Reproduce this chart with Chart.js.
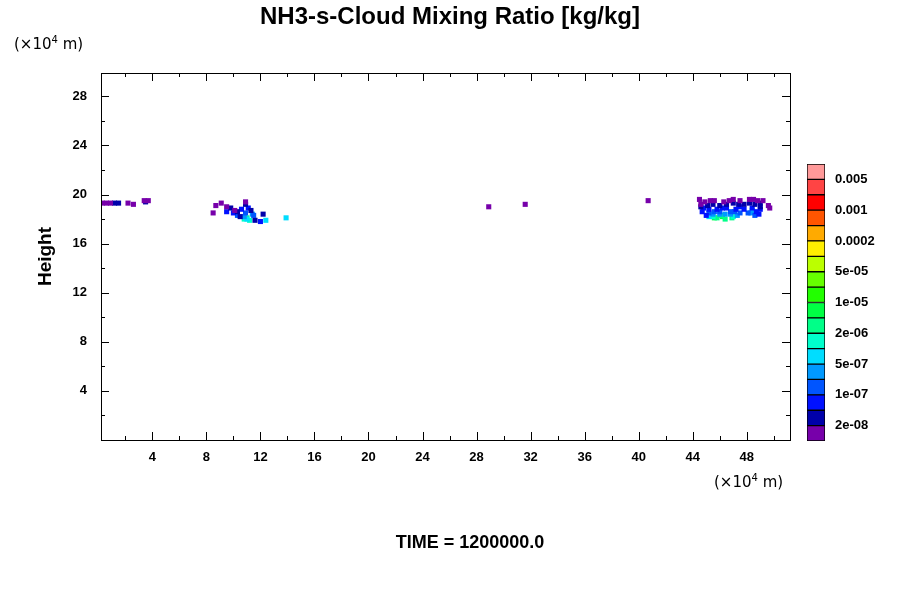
<!DOCTYPE html>
<html>
<head>
<meta charset="utf-8">
<script src="https://cdn.jsdelivr.net/npm/chart.js@4"></script>
<style>
  body { margin: 0; background: #fff; }
  #wrap { position: relative; width: 900px; height: 600px; font-family: "Liberation Sans", Arial, sans-serif; }
  .txt { position: absolute; white-space: nowrap; }
  #main { position: absolute; left: 0; top: 0; }
  #bar { position: absolute; left: 807px; top: 148px; }
</style>
</head>
<body>
<div id="wrap">
  <canvas id="main" width="900" height="600"></canvas>
  <canvas id="bar" width="90" height="309"></canvas>
  <div class="txt" style="left:0;width:900px;top:2px;text-align:center;font-size:24px;font-weight:bold;">NH3-s-Cloud Mixing Ratio [kg/kg]</div>
  <div class="txt" style="left:14px;top:34px;font-size:15px;font-family:'DejaVu Sans';">(×10<sup style="font-size:10px">4</sup> m)</div>
  <div class="txt" style="left:714px;top:472px;font-size:15px;font-family:'DejaVu Sans';">(×10<sup style="font-size:10px">4</sup> m)</div>
  <div class="txt" style="left:0;width:940px;top:532px;text-align:center;font-size:18px;font-weight:bold;">TIME = 1200000.0</div>
</div>
<script>
// colour levels, bottom to top
const levelColors = ['#7700aa','#0000aa','#0011ff','#0055ff','#0099ff','#00ddff','#00ffcc','#00ff88',
  '#00ff44','#22ff00','#66ff00','#bbff00','#ffee00','#ffaa00','#ff5500','#ff0000','#ff4444','#ff9999'];
const levelLabels = {1:'2e-08',3:'1e-07',5:'5e-07',7:'2e-06',9:'1e-05',11:'5e-05',13:'0.0002',15:'0.001',17:'0.005'};
const xTicks = [4,8,12,16,20,24,28,32,36,40,44,48];
const yTicks = [4,8,12,16,20,24,28];

// cloud cells per level (x, height in 1e4 m)
const cellsPurple = [[0.3,19.3],[0.6,19.3],[0.9,19.3],[2.2,19.3],[2.6,19.2],[3.4,19.5],[3.7,19.5],[8.7,19.1],[9.1,19.3],
  [8.5,18.5],[28.9,19.0],[31.6,19.2],[40.7,19.5],[44.5,19.6],[44.9,19.4],[46.3,19.4],[47.5,19.5],[48.2,19.6],
  [48.8,19.5],[49.6,19.1],[49.7,18.9],[9.5,19.0],[45.6,19.5],[47.0,19.6],[45.3,19.5],[46.7,19.5],[48.5,19.6],
  [44.6,19.2],[49.2,19.5],[10.9,19.4],[10.1,18.7]];
const cellsNavy = [[1.2,19.3],[1.5,19.3],[9.8,18.9],[10.9,19.2],[44.6,19.0],[45.5,19.2],[46.0,19.1],[47.0,19.3],
  [47.8,19.2],[48.6,19.2],[49.0,19.3],[10.5,18.2],[11.6,17.9],[12.2,18.4],[3.5,19.4],[45.1,19.1],[46.5,19.2],
  [47.4,19.2],[48.2,19.3],[49.0,19.0],[10.3,18.6],[11.3,18.7]];
const cellsBlue = [[9.5,18.6],[10.0,18.5],[10.6,18.8],[11.1,18.9],[12.0,17.8],[44.7,18.6],[45.2,18.8],[45.8,18.8],
  [46.5,18.9],[47.2,18.8],[47.8,18.8],[48.4,18.9],[49.0,18.8],[45.0,18.3],[48.9,18.4],[44.8,18.9],[46.2,18.9],
  [47.5,19.0],[48.7,18.6]];
const cellsMidBlue = [[10.3,18.3],[10.9,18.5],[11.5,18.3],[45.2,18.5],[46.0,18.6],[46.8,18.6],[47.5,18.5],[48.1,18.5],
  [45.6,18.6],[47.1,18.6],[48.6,18.3]];
const cellsSky = [[10.8,18.2],[11.4,18.4],[45.5,18.4],[46.4,18.4],[47.3,18.3],[48.3,18.5],[46.0,18.4],[46.8,18.4]];
const cellsCyan = [[11.0,18.0],[48.4,18.7],[12.4,17.9],[13.9,18.1],[45.2,18.2]];
const cellsTeal = [[11.2,17.9],[45.5,18.2],[47.0,18.2],[10.8,18.0]];
const cellsGreen = [[11.0,18.1],[45.8,18.1],[46.4,18.0],[46.9,18.1],[46.1,18.3]];
const cellsBright = [[46.2,18.2],[45.6,18.1]];

const cellSets = [
  [cellsPurple, 0], [cellsNavy, 1], [cellsBlue, 2], [cellsMidBlue, 3], [cellsSky, 4],
  [cellsCyan, 5], [cellsTeal, 6], [cellsGreen, 7], [cellsBright, 8]
];

const tickFont = { family: 'Liberation Sans', size: 13, weight: 'bold' };

// inward tick marks on all four sides
const innerTicks = {
  id: 'innerTicks',
  afterDraw(chart) {
    const { ctx, chartArea: a, scales: { x, y } } = chart;
    ctx.save();
    ctx.strokeStyle = '#000';
    ctx.lineWidth = 1;
    ctx.strokeRect(a.left + 0.5, a.top + 0.5, a.right - a.left, a.bottom - a.top);
    ctx.beginPath();
    for (let v = 2; v < 51; v += 2) {
      const px = Math.round(x.getPixelForValue(v)) + 0.5;
      const len = v % 4 === 0 ? 8 : 4;
      ctx.moveTo(px, a.bottom); ctx.lineTo(px, a.bottom - len);
      ctx.moveTo(px, a.top); ctx.lineTo(px, a.top + len);
    }
    for (let v = 2; v < 30; v += 2) {
      const py = Math.round(y.getPixelForValue(v)) + 0.5;
      const len = v % 4 === 0 ? 8 : 4;
      ctx.moveTo(a.left, py); ctx.lineTo(a.left + len, py);
      ctx.moveTo(a.right, py); ctx.lineTo(a.right - len, py);
    }
    ctx.stroke();
    ctx.restore();
  }
};

new Chart(document.getElementById('main'), {
  type: 'scatter',
  data: {
    datasets: cellSets.map(([pts, lvl]) => ({
      data: pts.map(p => ({ x: p[0], y: p[1] })),
      backgroundColor: levelColors[lvl],
      borderWidth: 0,
      pointStyle: 'rect',
      pointRadius: 3.6,
      pointHoverRadius: 3.6
    }))
  },
  options: {
    responsive: false,
    animation: false,
    layout: { padding: { top: 73, right: 110, left: 24, bottom: 0 } },
    plugins: { legend: { display: false }, tooltip: { enabled: false } },
    scales: {
      x: {
        type: 'linear', min: 0.2, max: 51.2,
        afterFit: s => { s.height = 160; },
        afterBuildTicks: s => { s.ticks = xTicks.map(v => ({ value: v })); },
        grid: { display: false }, border: { display: false },
        ticks: { color: '#000', font: tickFont, padding: 2, maxRotation: 0 },
        title: { display: false }
      },
      y: {
        type: 'linear', min: 0, max: 29.9,
        afterFit: s => { s.width = 77; },
        afterBuildTicks: s => { s.ticks = yTicks.map(v => ({ value: v })); },
        grid: { display: false }, border: { display: false },
        ticks: { color: '#000', font: tickFont, padding: 6 },
        title: { display: true, text: 'Height', color: '#000', padding: 10,
          font: { family: 'Liberation Sans', size: 19, weight: 'bold' } }
      }
    }
  },
  plugins: [innerTicks]
});

// colour bar
new Chart(document.getElementById('bar'), {
  type: 'bar',
  data: {
    labels: ['c'],
    datasets: levelColors.map((c, i) => ({
      data: [[i, i + 1]],
      backgroundColor: c,
      borderColor: '#000',
      borderWidth: 1,
      borderSkipped: false,
      grouped: false,
      categoryPercentage: 1,
      barPercentage: 1
    }))
  },
  options: {
    responsive: false,
    animation: false,
    layout: { padding: { top: 16, bottom: 16 } },
    plugins: { legend: { display: false }, tooltip: { enabled: false } },
    scales: {
      x: { display: false },
      y: {
        position: 'right', min: 0, max: 18,
        afterFit: s => { s.width = 72; },
        afterBuildTicks: s => { s.ticks = Object.keys(levelLabels).map(v => ({ value: +v })); },
        grid: { display: false }, border: { display: false },
        ticks: { color: '#000', font: tickFont, padding: 2, callback: v => levelLabels[v] }
      }
    }
  }
});
</script>
</body>
</html>
